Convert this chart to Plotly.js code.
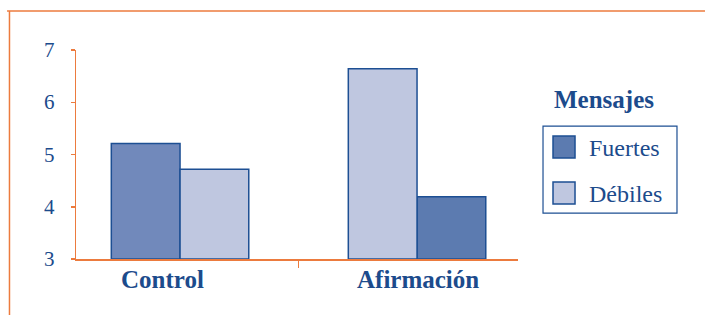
<!DOCTYPE html>
<html>
<head>
<meta charset="utf-8">
<script src="https://cdn.plot.ly/plotly-3.0.1.min.js"></script>
<style>
html,body{margin:0;padding:0;background:#fff;}
#chart{width:705px;height:315px;}
</style>
</head>
<body>
<div id="chart"></div>
<script>
// Data
const categories = ['Control', 'Afirmación'];
const fuertes = [5.21, 4.19];
const debiles = [4.72, 6.64];
const seriesNames = ['Fuertes', 'Débiles'];
const legendTitle = 'Mensajes';
const yTicks = [3, 4, 5, 6, 7];

const blueText = '#1c4b8c';
const orange = '#ec7b3e';
const edge = '#1d4f93';
const fuertesColors = ['#7189bb', '#5c7bb0'];
const debilesColor = '#bfc7e0';
const serif = 'Liberation Serif';
const xIdx = categories.map((c, i) => i);
const bw = 0.29;
const baseVal = yTicks[0];

const traces = [
  {
    type: 'bar', name: seriesNames[0], x: xIdx, y: fuertes.map(v => v - baseVal), base: baseVal,
    width: bw, offset: [-bw, 0],
    marker: {color: fuertesColors, line: {color: edge, width: 1.5}}
  },
  {
    type: 'bar', name: seriesNames[1], x: xIdx, y: debiles.map(v => v - baseVal), base: baseVal,
    width: bw, offset: [0, -bw],
    marker: {color: debilesColor, line: {color: edge, width: 1.5}}
  }
];

const annotations = [];
// category labels
categories.forEach((c, i) => annotations.push({
  x: i === 0 ? i - 0.076 : i + 0.004, y: -0.1, xref: 'x', yref: 'paper',
  text: '<b>' + c + '</b>', showarrow: false, xanchor: 'center', yanchor: 'middle',
  font: {family: serif, size: 25, color: blueText}
}));
// y tick labels (serif)
yTicks.forEach(v => annotations.push({
  x: -0.043, y: v, xref: 'paper', yref: 'y', text: String(v), showarrow: false,
  xanchor: 'right', yanchor: 'middle', font: {family: serif, size: 21, color: blueText}
}));
// legend title
annotations.push({
  x: 1.195, y: 0.763, xref: 'paper', yref: 'paper', text: '<b>' + legendTitle + '</b>',
  showarrow: false, xanchor: 'center', yanchor: 'middle',
  font: {family: serif, size: 25, color: blueText}
});
// legend labels
const legendRows = [
  {name: seriesNames[0], color: fuertesColors[1], sy0: 0.5885, sy1: 0.4833, ty: 0.5316},
  {name: seriesNames[1], color: debilesColor, sy0: 0.3684, sy1: 0.2632, ty: 0.3129}
];
legendRows.forEach(r => annotations.push({
  x: 1.1561, y: r.ty, xref: 'paper', yref: 'paper', text: r.name, showarrow: false,
  xanchor: 'left', yanchor: 'middle', font: {family: serif, size: 24, color: blueText}
}));

const shapes = [
  {type: 'line', xref: 'paper', yref: 'paper', x0: -0.156, x1: 1.43, y0: 1.1866, y1: 1.1866,
   line: {color: orange, width: 1.5}},
  {type: 'line', xref: 'paper', yref: 'paper', x0: -0.1505, x1: -0.1505, y0: 1.1866, y1: -0.28,
   line: {color: orange, width: 1.5}},
  {type: 'rect', xref: 'paper', yref: 'paper', x0: 1.0566, x1: 1.3597, y0: 0.636, y1: 0.2196,
   line: {color: edge, width: 1.2}, fillcolor: 'rgba(0,0,0,0)'}
];
legendRows.forEach(r => shapes.push({
  type: 'rect', xref: 'paper', yref: 'paper', x0: 1.0792, x1: 1.1290, y0: r.sy0, y1: r.sy1,
  line: {color: edge, width: 1.5}, fillcolor: r.color
}));

const layout = {
  width: 705, height: 315,
  margin: {l: 76, r: 187, t: 50, b: 56},
  paper_bgcolor: '#fff', plot_bgcolor: '#fff',
  barmode: 'overlay',
  font: {family: serif, color: blueText},
  xaxis: {
    range: [-0.439, 1.426], showgrid: false, zeroline: false,
    showline: true, linecolor: orange, linewidth: 1.5,
    tickmode: 'array', tickvals: [0.5], ticks: 'outside', ticklen: 7, tickwidth: 1.5, tickcolor: orange,
    showticklabels: false, fixedrange: true
  },
  yaxis: {
    range: [yTicks[0], yTicks[yTicks.length - 1]], showgrid: false, zeroline: false,
    showline: true, linecolor: orange, linewidth: 1.5,
    tickmode: 'array', tickvals: yTicks,
    ticks: 'outside', ticklen: 4, tickwidth: 1.5, tickcolor: orange,
    showticklabels: false, fixedrange: true
  },
  showlegend: false,
  annotations: annotations,
  shapes: shapes
};

Plotly.newPlot('chart', traces, layout, {displayModeBar: false, staticPlot: true});
</script>
</body>
</html>
